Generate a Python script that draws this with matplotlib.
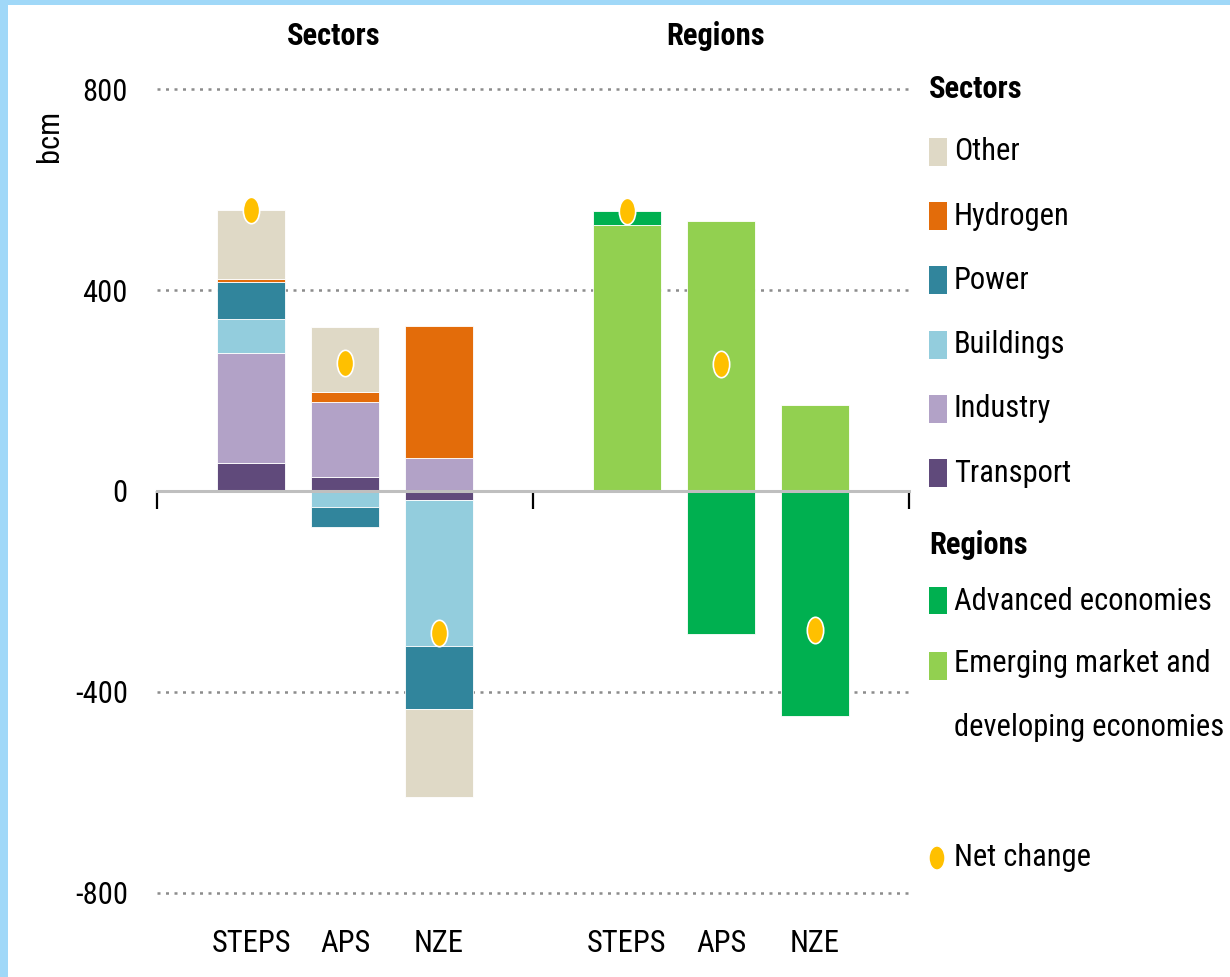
import numpy as np
import matplotlib as mpl
mpl.use('Agg')
import matplotlib.pyplot as plt
from matplotlib import font_manager
from matplotlib.patches import Rectangle, Ellipse
from matplotlib.path import Path
from matplotlib.transforms import Affine2D

# ---- data (bcm) ----
scenarios = ['STEPS', 'APS', 'NZE']

sector_names = ['Transport', 'Industry', 'Buildings', 'Power', 'Hydrogen', 'Other']
transport = [56, 28, -18]
industry = [219, 150, 66]
buildings = [67, -31, -290]
power = [74, -41, -126]
hydrogen = [6, 19, 262]
other = [138, 130, -176]
sector_net = [560, 255, -282]

emerging = [530, 537, 171]
advanced = [28, -285, -448]
region_net = [558, 252, -277]

yticks = [800, 400, 0, -400, -800]
yticklabels = ['800', '400', '0', '-400', '-800']

colors = {
    'Other': '#DFD9C6', 'Hydrogen': '#E36C0A', 'Power': '#31859C',
    'Buildings': '#93CDDD', 'Industry': '#B2A2C7', 'Transport': '#604A7B',
    'Advanced': '#00B050', 'Emerging': '#92D050', 'Net': '#FFC000',
}

# narrow font if there is one, otherwise plain DejaVu
names = {f.name for f in font_manager.fontManager.ttflist}
fs = 17
fam = 'DejaVu Sans'
for cand, size in [('Roboto Condensed', 22), ('Liberation Sans Narrow', 23),
                   ('Open Sans Condensed', 21), ('DejaVu Sans Condensed', 18)]:
    if cand in names:
        fam, fs = cand, size
        break
plt.rcParams['font.family'] = [fam, 'DejaVu Sans']

fig = plt.figure(figsize=(12.3, 9.77), dpi=100)
fig.patch.set_facecolor('#A0D8F8')
fig.add_artist(Rectangle((8 / 1230, 0), 1, (977 - 5) / 977, transform=fig.transFigure,
                         facecolor='white', edgecolor='none', zorder=-10))

ax = fig.add_axes([157 / 1230, 0.0783, (909 - 157) / 1230, 0.9166 - 0.0783])
ax.set_facecolor('none')

xs_sec = np.arange(3)
xs_reg = np.arange(3) + 4
w = 0.72


def stack(ax, x, series, cols):
    pos = np.zeros(len(x))
    neg = np.zeros(len(x))
    for vals, c in zip(series, cols):
        v = np.array(vals, dtype=float)
        bottom = np.where(v >= 0, pos, neg)
        ax.bar(x, v, w, bottom=bottom, color=c, edgecolor='white', linewidth=0.6, zorder=2)
        pos = pos + np.where(v >= 0, v, 0)
        neg = neg + np.where(v < 0, v, 0)


stack(ax, xs_sec, [transport, industry, buildings, power, hydrogen, other],
      [colors[n] for n in sector_names])
stack(ax, xs_reg, [emerging, advanced], [colors['Emerging'], colors['Advanced']])

dot = Path.unit_circle().transformed(Affine2D().scale(0.62, 1.0))
for xs, net in [(xs_sec, sector_net), (xs_reg, region_net)]:
    ax.plot(xs, net, linestyle='none', marker=dot, markersize=19,
            markerfacecolor=colors['Net'], markeredgecolor='white', markeredgewidth=1.2, zorder=4)

ax.set_xlim(-1, 7)
ax.set_ylim(-815, 815)
ax.set_yticks(yticks, labels=yticklabels, fontsize=fs)
ax.tick_params(axis='y', length=0, pad=21)
ax.yaxis.grid(True, linestyle=(0, (1.2, 2.2)), color='#8C8C8C', linewidth=1.8, zorder=0)
ax.set_axisbelow(True)

for s in ['left', 'right', 'top']:
    ax.spines[s].set_visible(False)
ax.spines['bottom'].set_position(('data', 0))
ax.spines['bottom'].set_color('#BFBFBF')
ax.spines['bottom'].set_linewidth(2.2)
ax.spines['bottom'].set_zorder(3)
ax.set_xticks([-1, 3, 7], labels=[])
ax.tick_params(axis='x', direction='out', length=13, width=1.6, color='black')

xt = ax.get_xaxis_transform()
for x, lab in zip(list(xs_sec) + list(xs_reg), scenarios + scenarios):
    ax.text(x, -0.052, lab, transform=xt, ha='center', va='center', fontsize=fs)
ax.text(xs_sec.mean() - 0.12, 1.055, 'Sectors', transform=xt, ha='center', va='center',
        fontsize=fs, fontweight='bold')
ax.text(xs_reg.mean() - 0.06, 1.055, 'Regions', transform=xt, ha='center', va='center',
        fontsize=fs, fontweight='bold')

fig.text(50 / 1230, 1 - 136 / 977, 'bcm', rotation=90, ha='center', va='center', fontsize=fs)

# ---- legend, built by hand ----
def fy(py):
    return 1 - py / 977


lx_patch = 929 / 1230
lx_text = 954 / 1230
pw = 18 / 1230
fig.text(lx_patch, fy(89), 'Sectors', ha='left', va='center', fontsize=fs, fontweight='bold')
sec_legend = ['Other', 'Hydrogen', 'Power', 'Buildings', 'Industry', 'Transport']
for i, n in enumerate(sec_legend):
    yc = 152 + i * 64.2
    fig.add_artist(Rectangle((lx_patch, fy(yc + 14)), pw, 28 / 977, transform=fig.transFigure,
                             facecolor=colors[n], edgecolor='none'))
    fig.text(lx_text, fy(yc), n, ha='left', va='center', fontsize=fs)

fig.text(lx_patch, fy(545), 'Regions', ha='left', va='center', fontsize=fs, fontweight='bold')
fig.add_artist(Rectangle((lx_patch, fy(614)), pw, 27 / 977, transform=fig.transFigure,
                         facecolor=colors['Advanced'], edgecolor='none'))
fig.text(lx_text, fy(601), 'Advanced economies', ha='left', va='center', fontsize=fs)
fig.add_artist(Rectangle((lx_patch, fy(680)), pw, 28 / 977, transform=fig.transFigure,
                         facecolor=colors['Emerging'], edgecolor='none'))
fig.text(lx_text, fy(663), 'Emerging market and', ha='left', va='center', fontsize=fs)
fig.text(lx_text, fy(727), 'developing economies', ha='left', va='center', fontsize=fs)

fig.add_artist(Ellipse((937 / 1230, fy(858)), 16 / 1230, 24 / 977, transform=fig.transFigure,
                       facecolor=colors['Net'], edgecolor='white', linewidth=1))
fig.text(lx_text, fy(858), 'Net change', ha='left', va='center', fontsize=fs)

fig.savefig('out.png', dpi=100, facecolor=fig.get_facecolor())
